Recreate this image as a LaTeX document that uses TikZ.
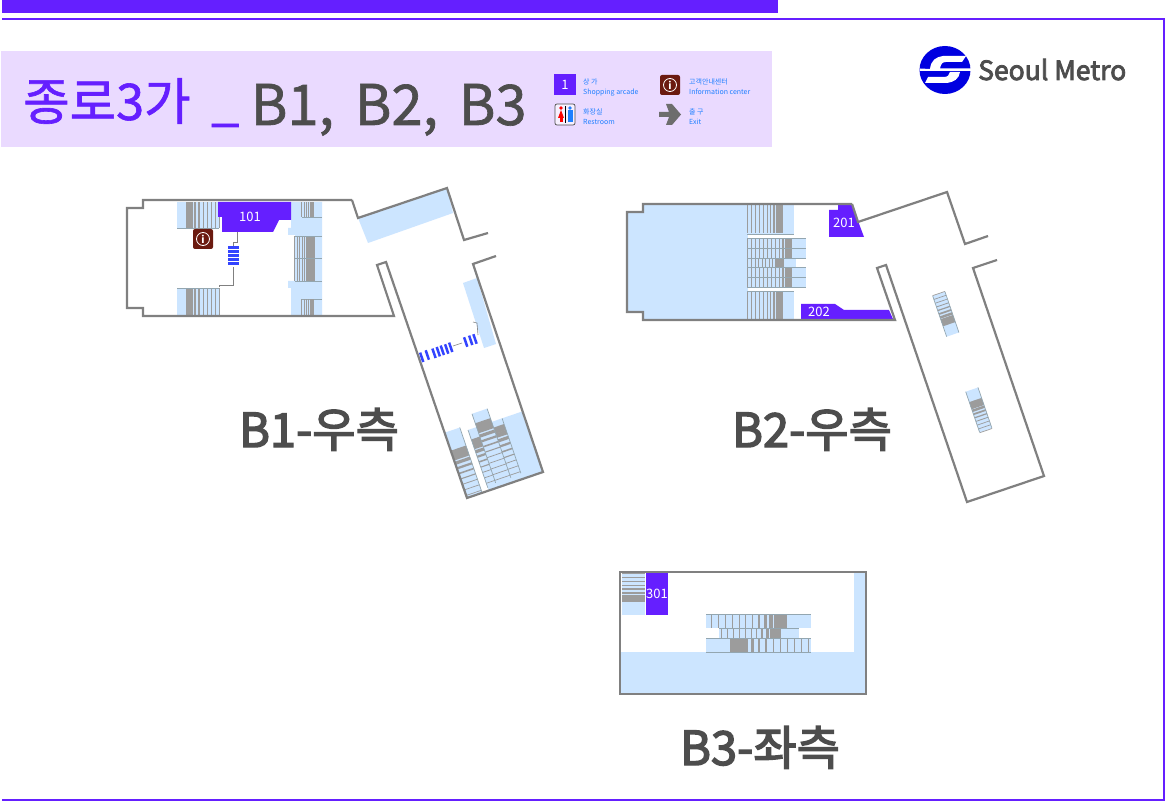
\documentclass[tikz,border=0pt]{standalone}
\usepackage{fontspec}
\setmainfont{Noto Sans CJK KR}
\newfontfamily\titlefont[FakeBold=1.2]{Noto Sans CJK KR}
\newfontfamily\floorfont[FakeBold=3]{Noto Sans CJK KR}
\definecolor{metropurple}{HTML}{651FFF}
\definecolor{bandlilac}{HTML}{EADAFF}
\definecolor{zoneblue}{HTML}{CCE5FF}
\definecolor{wallgray}{HTML}{808080}
\definecolor{bargray}{HTML}{9C9C9C}
\definecolor{treadgray}{HTML}{93A6B0}
\definecolor{titlegray}{HTML}{4D4D4D}
\definecolor{legendblue}{HTML}{1E7FFF}
\definecolor{infobrown}{HTML}{6B1A10}
\definecolor{liftblue}{HTML}{3344FF}
\definecolor{logoblue}{HTML}{0000E0}
% stair runs: thick bar first, thinner towards the end
\newcommand{\hstairs}[6]{% top, bottom, from x, to x, treads, first bar
  \foreach \tr in {0,...,#5} {
    \pgfmathsetmacro{\trpos}{#3+(#4-(#3))*\tr/#5}
    \pgfmathsetmacro{\trw}{max(0.7,#6*0.65^\tr)*sign(#4-(#3))}
    \fill[bargray] (\trpos,#1) rectangle ({\trpos+\trw},#2);
  }
}
\newcommand{\vstairs}[6]{% left, right, from y, to y, treads, first bar
  \foreach \tr in {0,...,#5} {
    \pgfmathsetmacro{\trpos}{#3+(#4-(#3))*\tr/#5}
    \pgfmathsetmacro{\trw}{max(0.7,#6*0.7^\tr)*sign(#4-(#3))}
    \fill[bargray] (#1,\trpos) rectangle (#2,{\trpos+\trw});
  }
}
\begin{document}
\begin{tikzpicture}[x=1pt,y=-1pt,
    wall/.style = {draw=wallgray, line width=2.2pt, line join=miter},
    zone/.style = {fill=zoneblue},
    shop/.style = {fill=metropurple},
    shoplabel/.style = {text=white, font=\fontsize{13}{13}\selectfont, inner sep=0pt},
    tread/.style = {draw=treadgray, line width=0.7pt},
    wire/.style = {draw=wallgray, line width=0.6pt},
    tick/.style = {draw=liftblue, line width=2.5pt},
    bigtitle/.style = {anchor=base west, inner sep=0pt, font=\titlefont\fontsize{56}{56}\selectfont},
    floorname/.style = {anchor=base, inner sep=0pt, text=titlegray, font=\floorfont\fontsize{47}{47}\selectfont},
    legendtext/.style = {anchor=base west, inner sep=0pt, text=legendblue, font=\fontsize{7}{7}\selectfont}
  ]
\useasboundingbox (0,0) rectangle (1165,802);
\fill[white] (0,0) rectangle (1165,802);

% frame
\fill[metropurple] (2,0) rectangle (778,13);
\draw[metropurple, line width=2pt] (2,19) -- (1164,19) -- (1164,800) -- (2,800);

% title band
\fill[bandlilac] (1,51) rectangle (772,147);
\node[bigtitle, text=metropurple, font=\titlefont\fontsize{50.5}{50.5}\selectfont] (stationname) at (23,120) {종로3가};
\node[bigtitle, text=metropurple, font=\titlefont\fontsize{50}{50}\selectfont] (dash) at (211,120) {\_};
\node[bigtitle, text=titlegray] (titleb1) at (250.5,125) {B1,};
\node[bigtitle, text=titlegray] (titleb2) at (354.5,125) {B2,};
\node[bigtitle, text=titlegray] (titleb3) at (458.5,125) {B3};

% legend
\fill[metropurple] (554,74) rectangle (576,95);
\node[text=white, font=\fontsize{13}{13}\selectfont, inner sep=0pt] (legendshop) at (565,84.5) {1};
\node[legendtext] (shopko) at (583,85) {상 가};
\node[legendtext] (shopen) at (583,95) {Shopping arcade};
\fill[infobrown, rounded corners=2pt] (660,75) rectangle (680,95);
\draw[white, line width=0.8pt] (670,85) circle (6.5);
\node[text=white, font=\itshape\bfseries\fontsize{10}{10}\selectfont, inner sep=0pt] (legendinfo) at (670,85) {i};
\node[legendtext] (infoko) at (689,85) {고객안내센터};
\node[legendtext] (infoen) at (689,95) {Information center};
\draw[fill=bandlilac!40!white, draw=titlegray, line width=0.7pt, rounded corners=2pt] (555,104) rectangle (575,125);
\fill[red] (561,108) circle (1.8);
\fill[red] (561,110) -- (564,118) -- (558,118) -- cycle;
\fill[red] (559.5,117) rectangle (562.5,122);
\fill[legendblue] (570,108) circle (1.8);
\fill[legendblue] (567.5,110.5) rectangle (572.5,122);
\fill[black] (565.4,106) rectangle (566.2,123);
\node[legendtext] (toiletko) at (583,115) {화장실};
\node[legendtext] (toileten) at (583,125) {Restroom};
\fill[wallgray!85!black] (659,112) -- (669,112) -- (666,104) -- (672,104) -- (681,114.5) -- (672,125) -- (666,125) -- (669,117) -- (659,117) -- cycle;
\node[legendtext] (exitko) at (689,115) {출 구};
\node[legendtext] (exiten) at (689,125) {Exit};

% logo
\fill[logoblue] (945,70) ellipse (25.5 and 24);
\fill[white] (930,69) .. controls (931,60) and (936,57) .. (943,56) -- (966,56) -- (962,62) -- (946,62) .. controls (942,62) and (941,64) .. (940,68.5) -- (971,68.5) -- (971,71) -- (920,71) -- (920,68.5) -- cycle;
\fill[white] (960,72) .. controls (959,79) and (954,82) .. (947,83) -- (925,83) -- (928,77) -- (944,77) .. controls (948,77) and (949,75) .. (950,72) -- cycle;
\node[anchor=base west, inner sep=0pt, text=titlegray, font=\floorfont\fontsize{26.5}{26.5}\selectfont] (logotext) at (978,80) {Seoul Metro};

% B1 zones
\fill[zone] (358,218) -- (447,188) -- (453,213) -- (368,243) -- cycle;
\fill[zone] (463,283) -- (477,278) -- (496,344) -- (484,348) -- cycle;
\fill[zone] (177,202) rectangle (219,228);
\fill[zone] (177,288) rectangle (219,315);
\fill[zone] (291,202) -| (322,315) -| (291,288) -| (288,281) -| (295,235) -| (288,228) -| (291,202);
\hstairs{202}{228}{186}{219}{8}{4.5}
\hstairs{288}{315}{186}{219}{8}{4.5}
\draw[tread] (177,228) -- (219,228) (177,288) -- (219,288);
\hstairs{202}{217}{314}{302}{5}{3}
\draw[tread] (302,217) -- (322,217) (302,299) -- (322,299);
\hstairs{236}{258}{315}{295}{8}{6}
\hstairs{258}{281}{315}{295}{8}{6}
\draw[tread] (295,236) -- (322,236) (295,258) -- (322,258) (295,281) -- (322,281);
\hstairs{299}{315}{314}{302}{5}{3}

% B1 shop and lift
\fill[shop] (218,202) -- (291,202) -- (291,220) -- (279,220) -- (273,232) -- (222,232) -- (222,217) -- (218,217) -- cycle;
\node[shoplabel] (shop101) at (250,217) {101};
\fill[infobrown, rounded corners=2pt] (193,229) rectangle (213,249);
\draw[white, line width=0.8pt] (203,239) circle (6.5);
\node[text=white, font=\itshape\bfseries\fontsize{10}{10}\selectfont, inner sep=0pt] (infob1) at (203,239) {i};
\draw[wire] (237,232) |- (233,242) -- (233,246);
\draw[wire] (233,267) |- (219,285) -- (219,287);
\foreach \y in {248,252,256,260,264} {
  \fill[liftblue] (228,\y-1.5) rectangle (239,\y+1.5);
}

% B1 stair head of the long corridor
\begin{scope}[shift={(467,498)},rotate=18.9]
  \fill[zone] (0,-69) rectangle (16,0);
  \fill[zone] (23,-64) rectangle (32,0);
  \fill[zone] (32,-78) rectangle (48,0);
  \fill[zone] (48,-64) rectangle (80,0);
  \vstairs{0}{16}{-50}{-3}{8}{6.5}
  \vstairs{23}{32}{-54}{-8}{8}{6.5}
  \vstairs{32}{48}{-68}{-8}{10}{6.5}
  \vstairs{48}{59}{-58}{-8}{8}{6.5}
  \draw[tread] (16,-69) -- (16,0) (23,-64) -- (23,-3) (32,-78) -- (32,-5) (48,-78) -- (48,-5) (59,-64) -- (59,-6);
\end{scope}

% B1 walls
\draw[wall] (352,200) -- (143,200) -- (143,208) -- (127,208) -- (127,308) -- (143,308) -- (143,316) -- (394,316) -- (377,265) -- (386,262) -- (467,498) -- (543,472) -- (473,264) -- (496,256);
\draw[wall] (352,200) -- (358,218) -- (447,188) -- (464,240) -- (488,233);

% B1 lift across the corridor
\foreach \x/\y in {421.7/357.3,427.3/355,434/353.3,438.3/351.7,442.3/350.3,446.7/349,450.7/347.3,465.7/342,470.7/340.3,475/339} {
  \draw[tick] ({\x-1.62},{\y-4.73}) -- ({\x+1.62},{\y+4.73});
}
\draw[wire] (453,346) -- (462,343);
\draw[wire] (478,335) -- (477,323) -- (473,322);

\node[floorname] (floorb1) at (319,447) {B1-우측};

% B2 zones
\fill[zone] (643,204) rectangle (794,320);
\fill[zone] (627,212) rectangle (643,312);
\fill[white] (748,234) rectangle (794,238);
\fill[white] (748,287) rectangle (794,291);
\fill[zone] (747,238) rectangle (806,258);
\fill[zone] (747,258) rectangle (796,267);
\fill[zone] (747,267) rectangle (806,287);
\hstairs{204}{233}{783}{748}{9}{5}
\hstairs{238}{248}{792}{748}{11}{5}
\hstairs{248}{258}{792}{748}{11}{5}
\hstairs{258}{267}{784}{748}{10}{5}
\hstairs{267}{277}{792}{748}{11}{5}
\hstairs{277}{287}{792}{748}{11}{5}
\hstairs{291}{320}{783}{748}{9}{5}
\draw[tread] (747,234) -- (794,234) (747,238) -- (806,238) (747,248) -- (806,248) (747,258) -- (806,258)
  (747,267) -- (806,267) (747,277) -- (806,277) (747,287) -- (806,287) (747,291) -- (794,291);

% B2 shops
\fill[shop] (829,210) -- (838,210) -- (838,205) -- (852,205) -- (864,237) -- (829,237) -- cycle;
\node[shoplabel] (shop201) at (844,223) {201};
\fill[shop] (801,304) -- (835,304) -- (844,310) -- (889,310) -- (893,319) -- (801,319) -- cycle;
\node[shoplabel] (shop202) at (819,311.5) {202};

% B2 stairs in the corridor
\begin{scope}[shift={(932.7,296)},rotate=18.9]
  \fill[zone] (0,0) rectangle (13,43);
  \vstairs{0}{13}{32}{0}{8}{5}
  \draw[tread] (0,0) -- (0,43) (13,0) -- (13,43);
\end{scope}
\begin{scope}[shift={(965.7,391.7)},rotate=18.9]
  \fill[zone] (0,0) rectangle (13,43);
  \vstairs{0}{13}{11}{43}{8}{5}
  \draw[tread] (0,0) -- (0,43) (13,0) -- (13,43);
\end{scope}

% B2 walls
\draw[wall] (852,204) -- (643,204) -- (643,212) -- (627,212) -- (627,312) -- (643,312) -- (643,320) -- (895,320) -- (877,268) -- (886,265) -- (967,502) -- (1044,476) -- (973,268) -- (997,260);
\draw[wall] (852,204) -- (858,222) -- (947,192) -- (965,244) -- (988,236);

\node[floorname] (floorb2) at (812,447) {B2-우측};

% B3
\fill[zone] (620,652) rectangle (866,694);
\fill[zone] (854,572) rectangle (866,652);
\fill[zone] (622,573) rectangle (645,615);
\vstairs{622}{645}{602}{574}{7}{4.5}
\fill[shop] (646,573) rectangle (668,615);
\node[shoplabel] (shop301) at (657,594) {301};
\fill[zone] (706,614) rectangle (811,628);
\fill[zone] (719,628) rectangle (799,638);
\fill[zone] (706,638) rectangle (811,652);
\hstairs{615}{628}{787}{712}{11}{10}
\hstairs{629}{638}{781}{722}{10}{8}
\hstairs{639}{652}{730}{808}{11}{10}
\draw[tread] (706,614) -- (811,614) (719,628) -- (799,628) (706,638) -- (811,638) (706,652) -- (811,652);
\draw[draw=wallgray, line width=2.2pt] (620,572) rectangle (866,694);

\node[floorname] (floorb3) at (760,765) {B3-좌측};
\end{tikzpicture}
\end{document}
